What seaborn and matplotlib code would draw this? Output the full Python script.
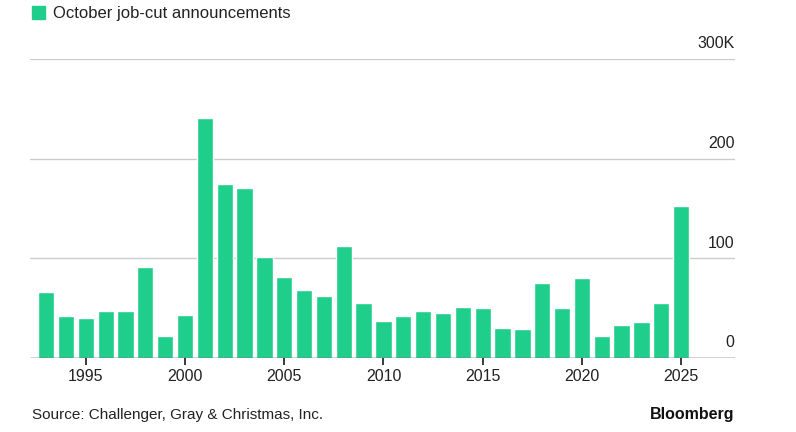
import numpy as np
import pandas as pd
import matplotlib.pyplot as plt
import seaborn as sns

years = list(range(1993, 2026))
cuts = [66, 42, 40, 47, 47, 91, 22, 43, 241, 175, 171, 101, 81, 68, 62, 113,
        55, 37, 42, 47, 45, 51, 50, 30, 29, 75, 50, 80, 22, 33, 36, 55, 153]
yticks = [0, 100, 200, 300]
ytick_labels = ["0", "100", "200", "300K"]
green = "#1fce8a"

sns.set_theme(style="white")
plt.rcParams["font.family"] = ["Liberation Sans", "DejaVu Sans"]

df = pd.DataFrame({"year": years, "cuts": cuts})
fig = plt.figure(figsize=(7.96, 4.32), dpi=100)
ax = fig.add_axes([0.038, 0.171, 0.885, 0.692])
sns.barplot(data=df, x="year", y="cuts", color=green, native_scale=True,
            width=0.82, saturation=1, ax=ax, zorder=3)
ax.set_xlim(1992.2, 2027.7)
ax.set_ylim(0, 300)
for t, lab in zip(yticks, ytick_labels):
    ax.axhline(t, color="#cccccc" if t else "#222222", lw=1, zorder=2 if t else 4)
    ax.text(2027.7, t + 8, lab, ha="right", va="bottom", fontsize=11.5, color="#222222")
ax.set_yticks([])
ax.set_xticks([1995, 2000, 2005, 2010, 2015, 2020, 2025])
ax.tick_params(axis="x", length=5, color="#222222", labelsize=11.5, labelcolor="#222222", pad=3, bottom=True)
ax.set_xlabel("")
ax.set_ylabel("")
sns.despine(ax=ax, left=True, top=True, right=True, bottom=True)

fig.patches.append(plt.Rectangle((0.04, 0.955), 0.016, 0.03, transform=fig.transFigure, color=green))
fig.text(0.066, 0.968, "October job-cut announcements", fontsize=12, va="center", color="#222222")
fig.text(0.04, 0.03, "Source: Challenger, Gray & Christmas, Inc.", fontsize=11, color="#222222")
fig.text(0.923, 0.03, "Bloomberg", fontsize=11.5, fontweight="bold", ha="right", color="#111111")

fig.savefig("out.png", dpi=100)
